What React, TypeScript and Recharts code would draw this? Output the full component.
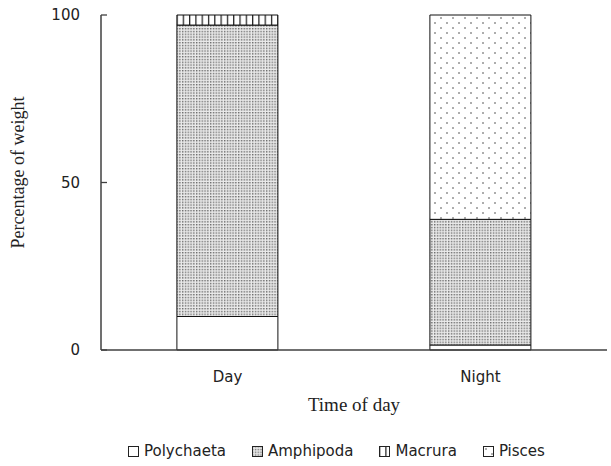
import React from "react";
import { Bar, BarChart, XAxis, YAxis, Legend } from "recharts";

if (typeof document !== "undefined") document.body.style.margin = "0";

const categories = ["Day", "Night"];
const polychaeta = [10, 1.5];
const amphipoda = [87, 37.5];
const macrura = [3, 0];
const pisces = [0, 61];
const yTicks = [0, 50, 100];

const series = [
  { key: "Polychaeta", fill: "#ffffff" },
  { key: "Amphipoda", fill: "url(#amph)" },
  { key: "Macrura", fill: "url(#macr)" },
  { key: "Pisces", fill: "url(#pisc)" },
];

const data = categories.map((name, i) => ({
  name,
  Polychaeta: polychaeta[i],
  Amphipoda: amphipoda[i],
  Macrura: macrura[i],
  Pisces: pisces[i],
}));

const axisColor = "#404040";
const sans = "'DejaVu Sans', Verdana, sans-serif";
const serif = "'Liberation Serif', 'Times New Roman', serif";

function Patterns() {
  return (
    <>
      <pattern id="amph" patternUnits="userSpaceOnUse" width="2.8" height="2.8">
        <rect width="2.8" height="2.8" fill="#eaeaea" />
        <rect width="1.4" height="1.4" fill="#6a6a6a" />
      </pattern>
      <pattern id="macr" patternUnits="userSpaceOnUse" width="6.3" height="4">
        <rect width="6.3" height="4" fill="#ffffff" />
        <line x1="0.6" y1="0" x2="0.6" y2="4" stroke="#222" strokeWidth="1.3" />
      </pattern>
      <pattern id="pisc" patternUnits="userSpaceOnUse" width="12" height="10">
        <rect width="12" height="10" fill="#ffffff" />
        <circle cx="3" cy="3" r="0.8" fill="#444" />
        <circle cx="9" cy="8" r="0.8" fill="#444" />
      </pattern>
    </>
  );
}

const YTick = (props: any) => {
  const { x, y, payload } = props;
  return (
    <g>
      <text x={x} y={y} dy="0.35em" textAnchor="end" fontFamily={sans} fontSize={15} fill="#222">
        {payload.value}
      </text>
      <line x1={x + 21} y1={y} x2={x + 27} y2={y} stroke={axisColor} strokeWidth={1.3} />
    </g>
  );
};

const LegendContent = () => (
  <div style={{ display: "flex", paddingLeft: 128, height: 30, alignItems: "center", fontFamily: sans, fontSize: 15, color: "#222" }}>
    <svg width="0" height="0" style={{ position: "absolute" }}>
      <defs>
        <Patterns />
      </defs>
    </svg>
    {series.map((s) => (
      <div key={s.key} style={{ display: "flex", alignItems: "center", marginRight: 26 }}>
        <svg width="11" height="11" style={{ marginRight: 5 }}>
          <rect x="0.5" y="0.5" width="10" height="10" fill={s.fill} stroke="#222" strokeWidth="1" />
        </svg>
        <span>{s.key}</span>
      </div>
    ))}
  </div>
);

export default function App() {
  return (
    <BarChart width={611} height={466} data={data} margin={{ top: 15, right: 4, left: 0, bottom: 0 }} barCategoryGap="30%">
      <defs>
        <Patterns />
      </defs>
      <XAxis
        dataKey="name"
        height={86}
        tickLine={false}
        tickSize={0}
        tickMargin={21}
        axisLine={{ stroke: axisColor, strokeWidth: 1.5 }}
        tick={{ fontFamily: sans, fontSize: 15, fill: "#222" }}
        label={{
          content: (p: any) => {
            const vb = p.viewBox;
            return (
              <text x={vb.x + vb.width / 2} y={411} textAnchor="middle" fontFamily={serif} fontSize={19} fill="#222">
                Time of day
              </text>
            );
          },
        }}
      />
      <XAxis xAxisId="top" orientation="top" dataKey="name" height={0} tick={false} tickLine={false} axisLine={{ stroke: axisColor, strokeWidth: 1.5 }} />
      <YAxis
        width={101}
        domain={[0, 100]}
        ticks={yTicks}
        tickLine={false}
        tickSize={0}
        tickMargin={21}
        axisLine={{ stroke: axisColor, strokeWidth: 1.5 }}
        tick={YTick}
        label={{
          content: (p: any) => {
            const vb = p.viewBox;
            const cy = vb.y + vb.height / 2 - 10;
            return (
              <text x={24} y={cy} transform={`rotate(-90 24 ${cy})`} textAnchor="middle" fontFamily={serif} fontSize={18} fill="#222">
                Percentage of weight
              </text>
            );
          },
        }}
      />
      <YAxis yAxisId="right" orientation="right" width={0} domain={[0, 100]} tick={false} tickLine={false} axisLine={{ stroke: axisColor, strokeWidth: 1.5 }} />
      <Legend verticalAlign="bottom" content={<LegendContent />} />
      {series.map((s) => (
        <Bar key={s.key} dataKey={s.key} stackId="a" fill={s.fill} stroke="#111" strokeWidth={1} isAnimationActive={false} />
      ))}
    </BarChart>
  );
}
